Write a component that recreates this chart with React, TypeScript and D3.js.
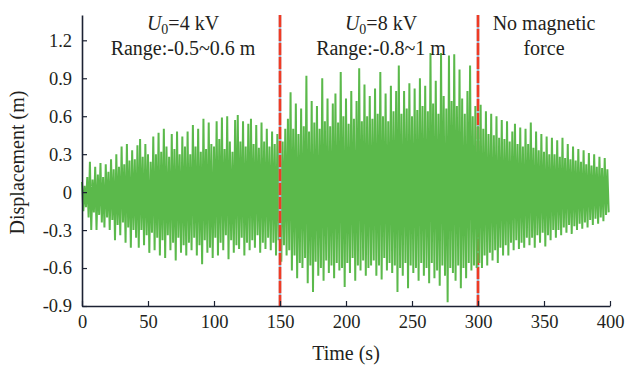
import * as d3 from "d3"
import { useEffect, useRef } from "react"

// peak values, one upper tip every 2 s (t = 0, 2, 4 ... 398)
const upperPeaks = [
  0.08, 0.05, 0.12, 0.24, 0.1, 0.2, 0.14, 0.23, 0.12, 0.22,
  0.16, 0.26, 0.18, 0.3, 0.2, 0.36, 0.22, 0.38, 0.25, 0.33,
  0.26, 0.37, 0.42, 0.28, 0.38, 0.3, 0.24, 0.44, 0.3, 0.47,
  0.32, 0.5, 0.36, 0.28, 0.46, 0.34, 0.48, 0.3, 0.44, 0.36,
  0.48, 0.3, 0.53, 0.36, 0.5, 0.32, 0.58, 0.34, 0.55, 0.38,
  0.36, 0.56, 0.42, 0.59, 0.34, 0.6, 0.4, 0.32, 0.57, 0.61,
  0.4, 0.56, 0.36, 0.54, 0.58, 0.38, 0.53, 0.35, 0.55, 0.4,
  0.5, 0.36, 0.48, 0.38, 0.46, 0.52, 0.4, 0.5, 0.58, 0.79,
  0.5, 0.7, 0.46, 0.66, 0.52, 0.92, 0.48, 0.72, 0.55, 0.68,
  0.5, 0.9, 0.56, 0.74, 0.52, 0.7, 0.78, 0.55, 0.95, 0.6,
  0.74, 0.54, 0.8, 0.58, 0.72, 0.98, 0.56, 0.85, 0.6, 0.76,
  0.58, 0.82, 0.62, 0.95, 0.6, 0.78, 0.56, 0.84, 0.64, 0.8,
  1.0, 0.62, 0.8, 0.66, 0.86, 0.6, 0.82, 0.65, 0.9, 0.68,
  0.84, 0.64, 1.1, 0.7, 0.88, 0.62, 1.1, 0.76, 0.66, 1.08,
  0.72, 1.09, 0.68, 0.97, 0.74, 0.62, 0.8, 1.0, 0.6, 0.68,
  0.52, 0.69, 0.5, 0.64, 0.46, 0.62, 0.45, 0.6, 0.43, 0.57,
  0.42, 0.56, 0.4, 0.48, 0.54, 0.38, 0.51, 0.36, 0.5, 0.38,
  0.55, 0.35, 0.48, 0.33, 0.46, 0.32, 0.44, 0.3, 0.43, 0.3,
  0.41, 0.28, 0.43, 0.27, 0.38, 0.26, 0.36, 0.25, 0.34, 0.24,
  0.33, 0.22, 0.31, 0.21, 0.3, 0.2, 0.28, 0.19, 0.27, 0.18,
]

// lower tips, t = 1, 3, 5 ... 399
const lowerPeaks = [
  -0.15, -0.12, -0.2, -0.3, -0.16, -0.3, -0.18, -0.24, -0.28, -0.2,
  -0.3, -0.22, -0.38, -0.26, -0.34, -0.24, -0.4, -0.28, -0.44, -0.3,
  -0.36, -0.44, -0.3, -0.42, -0.34, -0.48, -0.32, -0.46, -0.36, -0.5,
  -0.38, -0.52, -0.34, -0.46, -0.4, -0.54, -0.36, -0.48, -0.42, -0.5,
  -0.4, -0.46, -0.36, -0.5, -0.42, -0.57, -0.38, -0.48, -0.44, -0.52,
  -0.36, -0.5, -0.4, -0.46, -0.34, -0.53, -0.38, -0.48, -0.42, -0.45,
  -0.36, -0.5, -0.4, -0.46, -0.38, -0.44, -0.34, -0.48, -0.4, -0.45,
  -0.36, -0.46, -0.4, -0.5, -0.38, -0.55, -0.42, -0.5, -0.46, -0.62,
  -0.5, -0.68, -0.56, -0.6, -0.52, -0.72, -0.58, -0.79, -0.55, -0.66,
  -0.6, -0.7, -0.54, -0.64, -0.58, -0.68, -0.56, -0.62, -0.6, -0.75,
  -0.56, -0.64, -0.52, -0.7, -0.58, -0.62, -0.54, -0.66, -0.6, -0.58,
  -0.54, -0.66, -0.58, -0.69, -0.52, -0.62, -0.56, -0.64, -0.58, -0.79,
  -0.6, -0.66, -0.56, -0.76, -0.58, -0.64, -0.6, -0.7, -0.56, -0.66,
  -0.6, -0.72, -0.56, -0.68, -0.62, -0.74, -0.58, -0.66, -0.87, -0.6,
  -0.64, -0.7, -0.58, -0.76, -0.6, -0.68, -0.56, -0.62, -0.58, -0.6,
  -0.56, -0.6, -0.5, -0.58, -0.48, -0.54, -0.46, -0.56, -0.44, -0.5,
  -0.42, -0.5, -0.4, -0.46, -0.38, -0.45, -0.4, -0.44, -0.36, -0.42,
  -0.36, -0.44, -0.34, -0.4, -0.32, -0.43, -0.34, -0.38, -0.3, -0.36,
  -0.3, -0.34, -0.28, -0.32, -0.26, -0.33, -0.27, -0.3, -0.25, -0.29,
  -0.24, -0.28, -0.22, -0.26, -0.21, -0.25, -0.2, -0.23, -0.18, -0.16,
]

const xTicks = [0, 50, 100, 150, 200, 250, 300, 350, 400]
const yTicks = [-0.9, -0.6, -0.3, 0, 0.3, 0.6, 0.9, 1.2]
const switchTimes = [150, 300]
const stageLabels = [
  { t: 75, volt: "4", line2: "Range:-0.5~0.6 m" },
  { t: 225, volt: "8", line2: "Range:-0.8~1 m" },
  { t: 350, volt: null, line2: "force" },
]

const FONT = "'Liberation Serif', 'DejaVu Serif', serif"
const GREEN = "#5bb94b"
const RED = "#ef3b24"
const AXIS = "#1c2233"

export default function App() {
  const ref = useRef<SVGSVGElement | null>(null)

  useEffect(() => {
    if (!ref.current) return
    const width = 627
    const height = 370
    const margin = { top: 15, right: 17, bottom: 64, left: 82 }

    const svg = d3.select(ref.current)
    svg.selectAll("*").remove()
    svg.attr("viewBox", `0 0 ${width} ${height}`)

    const x = d3.scaleLinear().domain([0, 400]).range([margin.left, width - margin.right])
    const y = d3.scaleLinear().domain([-0.9, 1.4]).range([height - margin.bottom, margin.top])

    const pts: [number, number][] = []
    upperPeaks.forEach((u, i) => {
      pts.push([2 * i, u])
      pts.push([2 * i + 1, lowerPeaks[i]])
    })
    const line = d3
      .line<[number, number]>()
      .x((d) => x(d[0]))
      .y((d) => y(d[1]))

    const dashed = (t: number) => {
      const g = svg.append("g")
      g.append("line")
        .attr("x1", x(t)).attr("x2", x(t))
        .attr("y1", y(1.4)).attr("y2", y(-0.9))
        .attr("stroke", "#aab6cc").attr("stroke-width", 2.6)
      g.append("line")
        .attr("x1", x(t)).attr("x2", x(t))
        .attr("y1", y(1.4)).attr("y2", y(-0.9))
        .attr("stroke", RED).attr("stroke-width", 2.6)
        .attr("stroke-dasharray", "12 2")
    }

    // second switch line sits under the trace, the first one over it
    dashed(switchTimes[1])

    svg
      .append("path")
      .datum(pts)
      .attr("d", line)
      .attr("fill", "none")
      .attr("stroke", GREEN)
      .attr("stroke-width", 2)
      .attr("stroke-linejoin", "bevel")

    dashed(switchTimes[0])

    svg
      .append("g")
      .attr("transform", `translate(0,${height - margin.bottom})`)
      .call(d3.axisBottom(x).tickValues(xTicks).tickSizeInner(-5).tickSizeOuter(0).tickPadding(9).tickFormat((d) => String(d)))
      .call((g) => {
        g.select(".domain").attr("stroke", AXIS).attr("stroke-width", 1.6)
        g.selectAll("line").attr("stroke", AXIS).attr("stroke-width", 1.2)
        g.selectAll("text").attr("fill", "#231f20").attr("font-family", FONT).attr("font-size", 18.5)
      })

    svg
      .append("g")
      .attr("transform", `translate(${margin.left},0)`)
      .call(
        d3
          .axisLeft(y)
          .tickValues(yTicks)
          .tickSizeInner(-5)
          .tickSizeOuter(0)
          .tickPadding(10)
          .tickFormat((d) => (+d === 0 ? "0" : (+d).toFixed(1)))
      )
      .call((g) => {
        g.select(".domain").attr("stroke", AXIS).attr("stroke-width", 1.6)
        g.selectAll("line").attr("stroke", AXIS).attr("stroke-width", 1.2)
        g.selectAll("text").attr("fill", "#231f20").attr("font-family", FONT).attr("font-size", 18.5)
      })

    const labels = svg.append("g").attr("font-family", FONT).attr("font-size", 20).attr("fill", "#231f20").attr("text-anchor", "middle")
    stageLabels.forEach((s) => {
      const first = labels.append("text").attr("x", x(s.t) + (s.volt ? 2 : 0)).attr("y", 30)
      if (s.volt) {
        first.append("tspan").attr("font-style", "italic").text("U")
        first.append("tspan").attr("font-size", 14).attr("dy", 4).text("0")
        first.append("tspan").attr("dy", -4).text(`=${s.volt} kV`)
      } else {
        first.text("No magnetic")
      }
      labels.append("text").attr("x", x(s.t) + (s.volt ? 2 : 0)).attr("y", 55).text(s.line2)
    })

    svg
      .append("text")
      .attr("x", 346)
      .attr("y", 360)
      .attr("text-anchor", "middle")
      .attr("font-family", FONT)
      .attr("font-size", 20)
      .attr("fill", "#231f20")
      .text("Time (s)")

    svg
      .append("text")
      .attr("transform", `translate(24,${(y(1.4) + y(-0.9)) / 2 + 2}) rotate(-90)`)
      .attr("text-anchor", "middle")
      .attr("font-family", FONT)
      .attr("font-size", 20)
      .attr("fill", "#231f20")
      .text("Displacement (m)")
  }, [])

  return <svg ref={ref} width={627} height={370} style={{ position: "absolute", left: 0, top: 0 }} />
}
